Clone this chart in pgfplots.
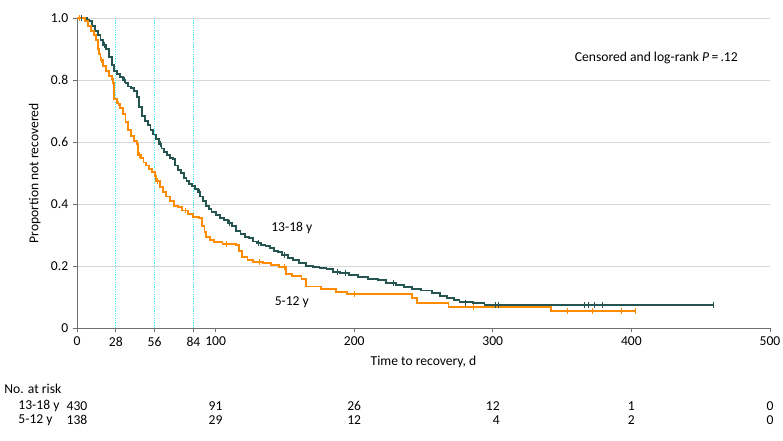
\documentclass[border=0pt]{standalone}
\usepackage{pgfplots}
\pgfplotsset{compat=1.18}
\usepackage{fontspec}
\setmainfont{Carlito}
\definecolor{tealc}{RGB}{38,84,80}
\definecolor{orangec}{RGB}{255,140,0}
\definecolor{gridc}{RGB}{215,215,215}
\definecolor{axc}{RGB}{110,110,110}
\definecolor{cyanc}{RGB}{70,230,245}
\begin{document}
\fontsize{10.2}{12}\selectfont
\begin{tikzpicture}
\begin{axis}[
  at={(0,0)}, anchor=south west,
  scale only axis, width=519.75pt, height=232.5pt,
  xmin=0, xmax=500, ymin=0, ymax=1,
  axis lines=left, axis line style={axc, line width=0.6pt, -},
  xtick={0,28,56,84,100,200,300,400,500},
  ytick={0,0.2,0.4,0.6,0.8,1.0},
  yticklabels={0,0.2,0.4,0.6,0.8,1.0},
  tick align=outside, major tick length=3pt,
  tick style={axc, line width=0.6pt},
  ymajorgrids, grid style={gridc, line width=0.6pt},
  /pgf/number format/assume math mode=true,
  ticklabel style={font=\fontsize{10.2}{12}\selectfont},
  xlabel={Time to recovery, d},
  ylabel={Proportion not recovered},
  every axis x label/.style={at={(axis description cs:0.5,-0.109)}, anchor=center},
  every axis y label/.style={at={(axis description cs:-0.061,0.5)}, rotate=90, anchor=center},
  clip=false,
]
\addplot[cyanc, densely dotted, line width=0.8pt] coordinates {(28,0) (28,1)};
\addplot[cyanc, densely dotted, line width=0.8pt] coordinates {(56,0) (56,1)};
\addplot[cyanc, densely dotted, line width=0.8pt] coordinates {(84,0) (84,1)};
% 13-18 y
\addplot[const plot, tealc, line width=1.4pt] coordinates {
(0,1.0)(5,1.0)(7,0.995)(9,0.99)(11,0.975)(13,0.96)(15,0.945)(17,0.93)(19,0.915)(21,0.9)
(23,0.875)(25,0.85)(27,0.83)(29,0.82)(31,0.81)(33,0.8)(35,0.79)(37,0.78)(39,0.775)(41,0.765)
(43,0.745)(45,0.715)(47,0.685)(49,0.67)(51,0.655)(53,0.64)(55,0.625)(57,0.61)(59,0.595)(61,0.58)
(63,0.57)(65,0.56)(67,0.55)(69,0.545)(71,0.525)(73,0.51)(75,0.5)(77,0.485)(79,0.475)(81,0.465)
(83,0.46)(85,0.45)(87,0.44)(89,0.425)(91,0.41)(93,0.395)(95,0.385)(97,0.375)(100,0.365)(103,0.355)
(106,0.35)(109,0.34)(112,0.33)(115,0.315)(118,0.305)(121,0.295)(124,0.29)(127,0.28)(130,0.275)
(133,0.27)(136,0.265)(139,0.26)(142,0.25)(145,0.245)(148,0.237)(152,0.228)(156,0.22)(160,0.21)
(165,0.2)(170,0.198)(175,0.195)(180,0.19)(185,0.183)(190,0.178)(196,0.172)(203,0.166)(210,0.16)
(217,0.157)(223,0.147)(230,0.14)(236,0.134)(242,0.128)(248,0.122)(256,0.113)(262,0.105)(267,0.097)
(272,0.09)(276,0.086)(286,0.083)(294,0.076)(459,0.076)};
\addplot[only marks, mark=|, mark size=2.2pt, tealc, line width=0.7pt] coordinates {
(3,1.0)(20,0.915)(34,0.8)(60,0.595)(88,0.44)(110,0.34)(131,0.275)(150,0.237)(188,0.183)(194,0.178)
(228,0.147)(280,0.083)(302,0.076)(304,0.076)(366,0.076)(369,0.076)(373.5,0.076)(379,0.076)(459,0.076)};
% 5-12 y
\addplot[const plot, orangec, line width=1.4pt] coordinates {
(0,1.0)(4,1.0)(6,0.99)(8,0.975)(10,0.96)(12,0.945)(14,0.93)(15,0.9)(16,0.885)(17,0.865)(19,0.845)
(21,0.83)(23,0.815)(25,0.805)(26,0.79)(27,0.74)(29,0.725)(31,0.71)(33,0.69)(35,0.665)(37,0.64)
(39,0.62)(41,0.605)(43,0.595)(44,0.56)(46,0.55)(48,0.535)(50,0.525)(52,0.515)(54,0.505)(56,0.49)
(57,0.475)(60,0.455)(62,0.44)(64,0.425)(67,0.41)(70,0.395)(73,0.39)(76,0.38)(80,0.37)(84,0.36)
(88,0.355)(90,0.33)(92,0.31)(93,0.295)(96,0.285)(99,0.278)(105,0.272)(115,0.268)(117,0.25)(119,0.23)
(123,0.22)(127,0.215)(134,0.21)(140,0.205)(146,0.198)(151,0.175)(155,0.168)(162,0.16)(165,0.135)
(176,0.128)(187,0.118)(195,0.111)(242,0.097)(245,0.081)(268,0.069)(342,0.057)(403,0.057)};
\addplot[only marks, mark=|, mark size=2.2pt, orangec, line width=0.7pt] coordinates {
(2,1.0)(18,0.865)(30,0.725)(45,0.56)(58,0.475)(78,0.38)(108,0.272)(132,0.215)(150,0.198)(200,0.111)
(286,0.069)(354,0.057)(372,0.057)(393,0.057)(403,0.057)};
% labels
\node[anchor=center] at (axis cs:155,0.324) {13-18 y};
\node[anchor=center] at (axis cs:155,0.085) {5-12 y};
\node[anchor=center] at (axis cs:418,0.872) {Censored and log-rank \textit{P}\,=\,.12};
% risk table
\node[anchor=west] at (axis cs:-55.8,-0.196) {No. at risk};
\node[anchor=west] at (axis cs:-45.7,-0.251) {13-18 y};
\node[anchor=west] at (axis cs:-45.7,-0.296) {5-12 y};
\node at (axis cs:0,-0.251) {430};
\node at (axis cs:100,-0.251) {91};
\node at (axis cs:200,-0.251) {26};
\node at (axis cs:300,-0.251) {12};
\node at (axis cs:400,-0.251) {1};
\node at (axis cs:500,-0.251) {0};
\node at (axis cs:0,-0.296) {138};
\node at (axis cs:100,-0.296) {29};
\node at (axis cs:200,-0.296) {12};
\node at (axis cs:300,-0.296) {\phantom{1}4};
\node at (axis cs:400,-0.296) {2};
\node at (axis cs:500,-0.296) {0};
\end{axis}
\pgfresetboundingbox
\useasboundingbox (-57.75pt,-83.775pt) rectangle (529.5pt,246.225pt);
\end{tikzpicture}
\end{document}
